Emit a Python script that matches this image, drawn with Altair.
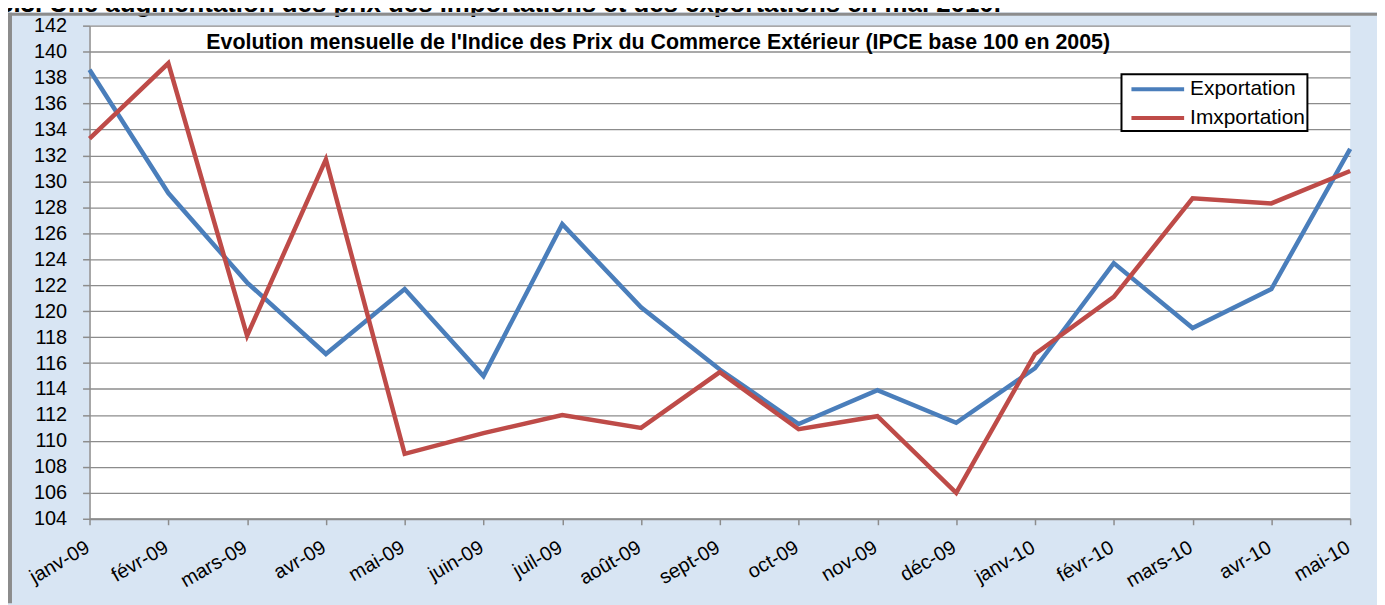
import altair as alt
import pandas as pd

months = ["janv-09", "févr-09", "mars-09", "avr-09", "mai-09", "juin-09", "juil-09",
          "août-09", "sept-09", "oct-09", "nov-09", "déc-09", "janv-10", "févr-10",
          "mars-10", "avr-10", "mai-10"]
export_vals = [138.6, 129.1, 122.2, 116.7, 121.7, 115.0, 126.7, 120.3, 115.5,
               111.3, 113.9, 111.4, 115.6, 123.7, 118.7, 121.7, 132.5]
import_vals = [133.3, 139.1, 118.1, 131.7, 109.0, 110.6, 112.0, 111.0, 115.3,
               110.9, 111.9, 106.0, 116.7, 121.1, 128.7, 128.3, 130.8]
series = ["Exportation", "Imxportation"]
colors = ["#4a7ebb", "#be4b48"]
y_ticks = list(range(104, 143, 2))
title_text = "Evolution mensuelle de l'Indice  des Prix du Commerce Extérieur (IPCE base 100 en 2005)"
heading = "3.3. Une augmentation des prix des importations et des exportations en mai 2010."

FONT = "Liberation Sans"
GRID = "#8c8c8c"

rows = []
for s, vals in zip(series, [export_vals, import_vals]):
    for m, v in zip(months, vals):
        rows.append({"mois": m, "indice": v, "serie": s})
df = pd.DataFrame(rows)

one = alt.Data(values=[{"k": 0}])

x_enc = alt.X("mois:N", sort=months,
              scale=alt.Scale(type="point", padding=0, domain=months),
              axis=alt.Axis(title=None, grid=False, labelAngle=-30, labelAlign="right",
                            labelBaseline="middle", labelFont=FONT, labelFontSize=20,
                            labelColor="black", labelPadding=21, labelOverlap=False,
                            labelOffset=-2,
                            tickSize=6, tickColor=GRID, tickWidth=1.5,
                            domainColor=GRID, domainWidth=2))
y_enc = alt.Y("indice:Q",
              scale=alt.Scale(domain=[104, 142], nice=False, zero=False),
              axis=alt.Axis(title=None, values=y_ticks, grid=True, gridColor=GRID,
                            gridWidth=1.3, labelFont=FONT, labelFontSize=20,
                            labelColor="black", labelPadding=16, tickSize=7,
                            tickColor=GRID, tickWidth=1.5, domainColor=GRID,
                            domainWidth=1.5))

lines = alt.Chart(df).mark_line(strokeWidth=4.5).encode(
    x=x_enc, y=y_enc,
    color=alt.Color("serie:N", scale=alt.Scale(domain=series, range=colors), legend=None),
    order=alt.Order("serie:N"),
    detail="serie:N",
)

# decorations: frame and heading
white_strip = alt.Chart(one).mark_rect(color="white").encode(
    x=alt.value(-92), x2=alt.value(1300), y=alt.value(-30), y2=alt.value(-13.5))
heading_txt = alt.Chart(one).mark_text(text=heading, font=FONT, fontSize=26, fontWeight="bold",
                                       align="left", baseline="alphabetic", color="black").encode(
    x=alt.value(-91), y=alt.value(-14))
frame_top = alt.Chart(one).mark_rule(color="#8c8c8c", strokeWidth=3).encode(
    x=alt.value(-82), x2=alt.value(1295), y=alt.value(-11.5))
frame_left = alt.Chart(one).mark_rule(color="#8c8c8c", strokeWidth=4).encode(
    x=alt.value(-80), y=alt.value(-13), y2=alt.value(581))

title = alt.Chart(one).mark_text(text=title_text, font=FONT, fontSize=21.5, fontWeight="bold",
                                 align="center", baseline="alphabetic", color="black").encode(
    x=alt.value(572), y=alt.value(23))

# legend box
leg_box = alt.Chart(one).mark_rect(fill="white", stroke="black", strokeWidth=2).encode(
    x=alt.value(1038), x2=alt.value(1225), y=alt.value(49), y2=alt.value(106))
leg_layers = [leg_box]
for i, (s, c) in enumerate(zip(series, colors)):
    yy = 64 + 29 * i
    leg_layers.append(alt.Chart(one).mark_rule(color=c, strokeWidth=4).encode(
        x=alt.value(1048), x2=alt.value(1101), y=alt.value(yy)))
    leg_layers.append(alt.Chart(one).mark_text(text=s, font=FONT, fontSize=21, align="left",
                                               baseline="middle", color="black").encode(
        x=alt.value(1107), y=alt.value(yy)))

chart = alt.layer(white_strip, heading_txt, frame_top, frame_left, lines, title,
                  *leg_layers).properties(
    width=1268, height=496,
    padding={"left": 82, "top": 16, "right": 27, "bottom": 85},
    autosize=alt.AutoSizeParams(type="none"),
    background="#d8e5f3",
).configure_view(fill="white", stroke=None)

chart.save("out.html", embed_options={"renderer": "svg", "actions": False})
